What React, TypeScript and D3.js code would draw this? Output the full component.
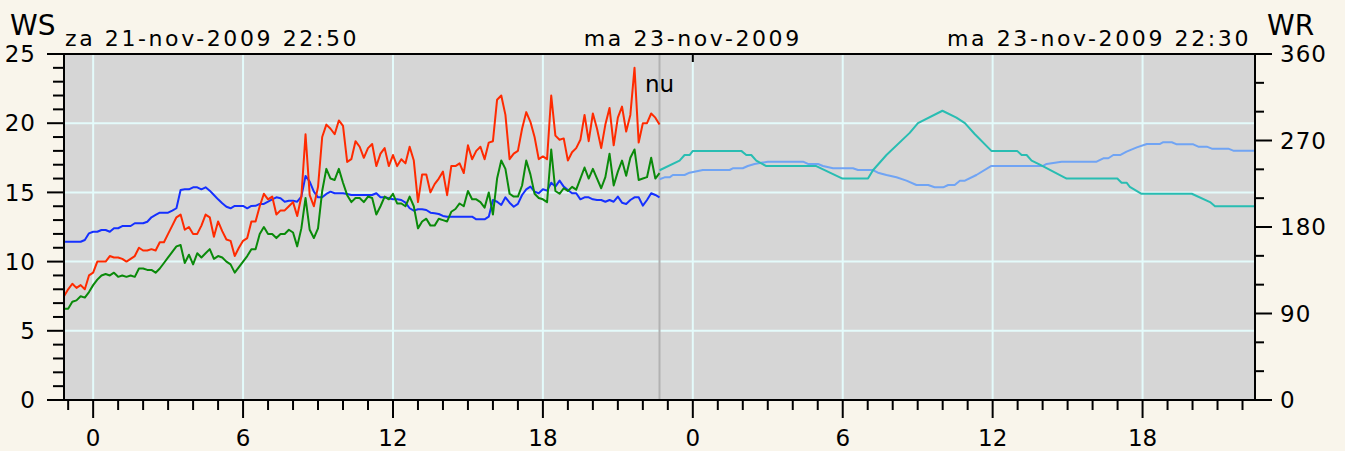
import { useRef, useEffect } from "react";
import * as d3 from "d3";

// observed, 10-minute samples starting za 21-nov-2009 22:50
const obsStart = new Date(2009, 10, 21, 22, 50);
const obsStepMinutes = 10;

// gust speed (red), WS
const gustSpeed = [
  7.5, 8.0, 8.4, 8.1, 8.3, 8.0, 9.0, 9.2, 10.0, 10.0, 10.0, 10.4, 10.3, 10.3, 10.2, 10.0,
  10.2, 10.4, 11.0, 10.8, 10.8, 10.9, 10.8, 11.4, 11.4, 12.0, 12.6, 13.2, 13.4, 12.3, 12.5, 12.0,
  12.0, 12.6, 13.4, 13.2, 11.8, 12.9, 12.2, 11.6, 11.5, 10.4, 11.0, 11.5, 11.7, 12.9, 12.9, 14.0,
  14.9, 14.5, 14.7, 13.4, 13.7, 13.7, 14.0, 14.3, 13.3, 14.7, 19.2, 14.8, 14.0, 15.4, 19.0, 19.9,
  19.6, 19.2, 20.2, 19.8, 17.2, 17.4, 18.7, 18.3, 17.5, 18.2, 18.5, 16.9, 17.8, 18.2, 16.9, 17.7,
  16.9, 17.4, 17.1, 18.3, 17.3, 14.3, 16.3, 16.3, 15.0, 15.6, 16.0, 16.5, 14.8, 16.9, 16.9, 17.1,
  16.4, 18.4, 17.4, 18.0, 18.3, 17.4, 18.6, 18.7, 21.7, 22.0, 20.6, 17.4, 17.8, 18.0, 19.6, 20.8,
  20.1, 19.0, 17.4, 17.6, 17.4, 22.0, 19.1, 18.8, 18.9, 17.3, 17.9, 18.2, 18.8, 20.6, 18.7, 20.7,
  19.6, 18.2, 19.9, 21.1, 18.4, 20.4, 21.2, 19.4, 20.6, 24.0, 18.6, 20.0, 20.0, 20.7, 20.4, 19.9,
];

// mean speed (green), WS
const meanSpeed = [
  6.6, 6.6, 7.1, 7.2, 7.5, 7.4, 7.8, 8.3, 8.7, 9.0, 9.1, 9.0, 9.2, 8.9, 9.0, 8.9,
  9.0, 8.9, 9.5, 9.5, 9.4, 9.4, 9.2, 9.5, 9.9, 10.3, 10.7, 11.1, 11.2, 9.9, 10.5, 9.8,
  10.6, 10.3, 10.6, 10.9, 10.2, 10.4, 10.3, 10.0, 9.8, 9.2, 9.6, 10.0, 10.4, 10.9, 10.9, 12.0,
  12.5, 12.0, 12.0, 11.7, 12.0, 12.0, 12.3, 12.1, 11.1, 12.4, 14.6, 12.3, 11.7, 12.4, 15.1, 16.7,
  16.0, 15.9, 16.7, 15.7, 14.8, 14.3, 14.6, 14.6, 14.3, 14.7, 14.6, 13.4, 14.0, 14.7, 14.5, 14.9,
  14.2, 14.2, 14.0, 14.7, 14.0, 12.4, 12.9, 13.1, 12.6, 12.6, 13.1, 13.0, 12.9, 13.6, 13.8, 14.2,
  14.0, 15.1, 14.5, 14.5, 14.3, 13.9, 15.0, 13.4, 16.0, 17.3, 16.7, 14.9, 14.7, 14.7, 15.5, 17.3,
  16.3, 14.9, 14.6, 14.5, 14.3, 18.1, 15.1, 14.9, 15.3, 15.1, 15.4, 15.2, 16.0, 16.8, 16.0, 16.7,
  16.0, 15.3, 16.1, 17.8, 15.5, 16.5, 17.3, 16.2, 17.5, 18.1, 15.9, 16.0, 16.1, 17.5, 16.0, 16.4,
];

// observed direction (blue), WR degrees
const obsDirection = [
  164.7, 164.7, 164.7, 164.7, 164.7, 166.5, 173.4, 175.1, 175.1, 176.9, 176.9, 175.1, 178.7, 178.7, 181, 181,
  181, 183.9, 183.9, 183.9, 185.5, 190.1, 192.5, 194.9, 194.9, 194.9, 197, 199.5, 218.5, 219.2, 219.2, 221.3,
  221.3, 219.2, 221.3, 217.8, 213.3, 208.8, 204.7, 201.1, 199.5, 201.9, 201.9, 201.9, 199.5, 201.9, 202, 204,
  204, 206.3, 208.8, 210.9, 209.9, 206.3, 207.4, 207.4, 206.3, 211.6, 233.1, 227.2, 216.8, 210.9, 210.9, 214.4,
  216.8, 215.1, 215.1, 215.1, 214.4, 213.3, 213.3, 213.3, 213.3, 213.3, 213.3, 215.1, 210.9, 210.9, 209.9, 208.8,
  208.8, 208.1, 205.3, 199.5, 197, 198.4, 198.4, 197.7, 194.9, 194.3, 193.5, 191.5, 190.7, 190.7, 190.7, 190.7,
  190.7, 190.7, 190.7, 188, 188, 188, 190.7, 208.1, 206.3, 202.9, 210.9, 205.3, 201.1, 204, 213.3, 219.2,
  222, 216.8, 215.1, 219.2, 217.8, 226.1, 222, 228.2, 222, 218.5, 215.1, 215.1, 208.8, 210.9, 210.9, 208.8,
  208.1, 208.1, 206.3, 208.1, 206.3, 211.6, 205.3, 204, 208.1, 210.9, 210.9, 202.2, 208.1, 215.1, 213.3, 210.9,
];

// forecast, hours relative to ma 23-nov-2009 00:00
const fcSpeedHours = [
  -1.33, -0.53, -0.33, -0.13, 0, 1.94, 2.14, 2.34, 2.54, 2.94, 4.94, 5.99, 7.01, 7.21, 7.75, 8.68,
  9.01, 9.99, 10.55, 10.89, 11.29, 11.95, 12.98, 13.16, 13.36, 13.56, 13.89, 14.96, 16.99, 17.16, 17.36, 17.49,
  17.96, 19.97, 20.7, 20.9, 22.5,
];
const fcSpeed = [
  16.6, 17.3, 17.7, 17.7, 18.0, 18.0, 17.7, 17.7, 17.3, 16.9, 16.9, 16.0, 16.0, 16.6, 17.7, 19.3,
  20.0, 20.9, 20.4, 20.0, 19.2, 18.0, 18.0, 17.7, 17.7, 17.3, 17.0, 16.0, 16.0, 15.7, 15.7, 15.4,
  14.9, 14.9, 14.3, 14.0, 14.0,
];
const fcDirHours = [
  -1.33, -1.13, -0.93, -0.8, -0.33, -0.13, 0.4, 1.47, 1.6, 2.0, 2.2, 2.47, 3.0, 4.41, 4.61, 5.01,
  5.21, 5.61, 6.41, 6.61, 7.21, 7.41, 7.75, 8.15, 8.55, 8.95, 9.42, 9.68, 10.02, 10.22, 10.48, 10.69,
  10.89, 11.35, 11.95, 14.02, 14.16, 14.76, 16.16, 16.43, 16.63, 16.83, 17.1, 17.36, 17.77, 18.17, 18.7, 18.83,
  19.17, 19.37, 20.03, 20.23, 20.57, 20.77, 21.43, 21.63, 22.5,
];
const fcDir = [
  229.7, 231.7, 231.7, 234.1, 234.1, 236.5, 239.3, 239.3, 241.1, 241.1, 243.5, 245.6, 248, 248, 245.6, 245.6,
  243.5, 241.1, 241.1, 239.3, 239.3, 236.5, 234.1, 231.7, 228.2, 223.7, 223.7, 221.3, 221.3, 223.7, 223.7, 228.2,
  228.2, 234.1, 243.5, 243.5, 245.6, 248, 248, 251.5, 251.5, 254.9, 254.9, 258.4, 262.9, 266.4, 266.4, 268.2,
  268.2, 266, 266, 263.6, 263.6, 261.5, 261.5, 259.4, 259.4,
];

const wsTicks = [0, 5, 10, 15, 20, 25];
const wrTicks = [0, 90, 180, 270, 360];

export default function App() {
  const svgRef = useRef<SVGSVGElement>(null);

  useEffect(() => {
    if (!svgRef.current) return;

    const width = 1345;
    const height = 451;
    const margin = { top: 54, right: 90, bottom: 51, left: 64 };
    const font = "'DejaVu Sans', sans-serif";

    const svg = d3.select(svgRef.current);
    svg.selectAll("*").remove();

    const tStart = new Date(2009, 10, 21, 22, 50);
    const tEnd = new Date(2009, 10, 23, 22, 30);
    const dayMark = new Date(2009, 10, 23, 0, 0);
    const now = new Date(2009, 10, 22, 22, 40);

    const x = d3.scaleTime().domain([tStart, tEnd]).range([margin.left, width - margin.right]);
    const yWS = d3.scaleLinear().domain([0, 25]).range([height - margin.bottom, margin.top]);
    const yWR = d3.scaleLinear().domain([0, 360]).range([height - margin.bottom, margin.top]);

    const x0 = margin.left;
    const x1 = width - margin.right;
    const y0 = height - margin.bottom;
    const y1 = margin.top;

    svg.append("rect").attr("width", width).attr("height", height).attr("fill", "#f9f5eb");
    svg.append("rect").attr("x", x0).attr("y", y1).attr("width", x1 - x0).attr("height", y0 - y1).attr("fill", "#d6d6d6");

    // grid
    const majorHours = x.ticks(d3.timeHour.every(6)!);
    const minorHours = x.ticks(d3.timeHour.every(1)!);
    svg.append("g").selectAll("line").data(majorHours).join("line")
      .attr("x1", (d) => x(d)).attr("x2", (d) => x(d)).attr("y1", y1).attr("y2", y0)
      .attr("stroke", "#e4fbfb").attr("stroke-width", 2);
    svg.append("g").selectAll("line").data(wsTicks.slice(1, -1)).join("line")
      .attr("x1", x0).attr("x2", x1).attr("y1", (d) => yWS(d)).attr("y2", (d) => yWS(d))
      .attr("stroke", "#e4fbfb").attr("stroke-width", 2);

    // now line
    svg.append("line").attr("x1", x(now)).attr("x2", x(now)).attr("y1", y1).attr("y2", y0)
      .attr("stroke", "#b2b2b2").attr("stroke-width", 2);

    // series
    const obsTime = (i: number) => d3.timeMinute.offset(obsStart, i * obsStepMinutes);
    const fcTime = (h: number) => new Date(dayMark.getTime() + h * 3600000);

    const drawLine = (xs: Date[], ys: number[], yScale: d3.ScaleLinear<number, number>, color: string) => {
      const pts = xs.map((t, i) => [x(t), yScale(ys[i])] as [number, number]);
      svg.append("path").attr("d", d3.line()(pts)).attr("fill", "none")
        .attr("stroke", color).attr("stroke-width", 2).attr("stroke-linejoin", "round");
    };

    drawLine(obsDirection.map((_, i) => obsTime(i)), obsDirection, yWR, "#1530ff");
    drawLine(meanSpeed.map((_, i) => obsTime(i)), meanSpeed, yWS, "#0a8a0a");
    drawLine(gustSpeed.map((_, i) => obsTime(i)), gustSpeed, yWS, "#ff2a00");
    drawLine(fcDirHours.map(fcTime), fcDir, yWR, "#70a4f4");
    drawLine(fcSpeedHours.map(fcTime), fcSpeed, yWS, "#28bdb2");

    // frame
    svg.append("rect").attr("x", x0).attr("y", y1).attr("width", x1 - x0).attr("height", y0 - y1)
      .attr("fill", "none").attr("stroke", "#000").attr("stroke-width", 2);

    // bottom ticks
    svg.append("g").selectAll("line").data(minorHours).join("line")
      .attr("x1", (d) => x(d)).attr("x2", (d) => x(d)).attr("y1", y0)
      .attr("y2", (d) => (d.getHours() % 6 === 0 ? y0 + 18 : y0 + 10))
      .attr("stroke", "#000").attr("stroke-width", 2);
    svg.append("g").selectAll("text").data(majorHours).join("text")
      .attr("x", (d) => x(d)).attr("y", y0 + 46).attr("text-anchor", "middle")
      .attr("font-family", font).attr("font-size", 23).attr("fill", "#000")
      .text((d) => String(d.getHours()));

    // top tick at date change
    svg.append("line").attr("x1", x(dayMark)).attr("x2", x(dayMark)).attr("y1", y1).attr("y2", y1 + 8)
      .attr("stroke", "#000").attr("stroke-width", 2);

    // left axis
    svg.append("g").selectAll("line").data(d3.range(0, 26)).join("line")
      .attr("x1", (d) => (d % 5 === 0 ? x0 - 17 : x0 - 11)).attr("x2", x0)
      .attr("y1", (d) => yWS(d)).attr("y2", (d) => yWS(d))
      .attr("stroke", "#000").attr("stroke-width", 2);
    svg.append("g").selectAll("text").data(wsTicks).join("text")
      .attr("x", 36).attr("y", (d) => yWS(d)).attr("dy", "0.36em").attr("text-anchor", "end")
      .attr("font-family", font).attr("font-size", 23).attr("letter-spacing", 1).attr("fill", "#000")
      .text((d) => String(d));

    // right axis
    svg.append("g").selectAll("line").data(d3.range(0, 361, 30)).join("line")
      .attr("x1", x1).attr("x2", (d) => (d % 90 === 0 ? x1 + 17 : x1 + 9))
      .attr("y1", (d) => yWR(d)).attr("y2", (d) => yWR(d))
      .attr("stroke", "#000").attr("stroke-width", 2);
    svg.append("g").selectAll("text").data(wrTicks).join("text")
      .attr("x", x1 + 25).attr("y", (d) => yWR(d)).attr("dy", "0.36em").attr("text-anchor", "start")
      .attr("font-family", font).attr("font-size", 23).attr("letter-spacing", 1).attr("fill", "#000")
      .text((d) => String(d));

    // titles
    const label = (tx: number, ty: number, anchor: string, size: number, txt: string, spacing = 0) =>
      svg.append("text").attr("x", tx).attr("y", ty).attr("text-anchor", anchor)
        .attr("font-family", font).attr("font-size", size).attr("letter-spacing", spacing)
        .attr("fill", "#000").text(txt);

    label(10, 35, "start", 28, "WS");
    label(1267, 35, "start", 28, "WR");
    label(x0 + 1, 46, "start", 22, "za 21-nov-2009 22:50", 2.6);
    label(x(dayMark), 46, "middle", 22, "ma 23-nov-2009", 2.6);
    label(x1 - 4, 46, "end", 22, "ma 23-nov-2009 22:30", 2.6);
    label(x(now), 92, "middle", 23, "nu");
  }, []);

  return (
    <svg
      ref={svgRef}
      width={1345}
      height={451}
      style={{ position: "absolute", left: 0, top: 0, display: "block" }}
    />
  );
}
